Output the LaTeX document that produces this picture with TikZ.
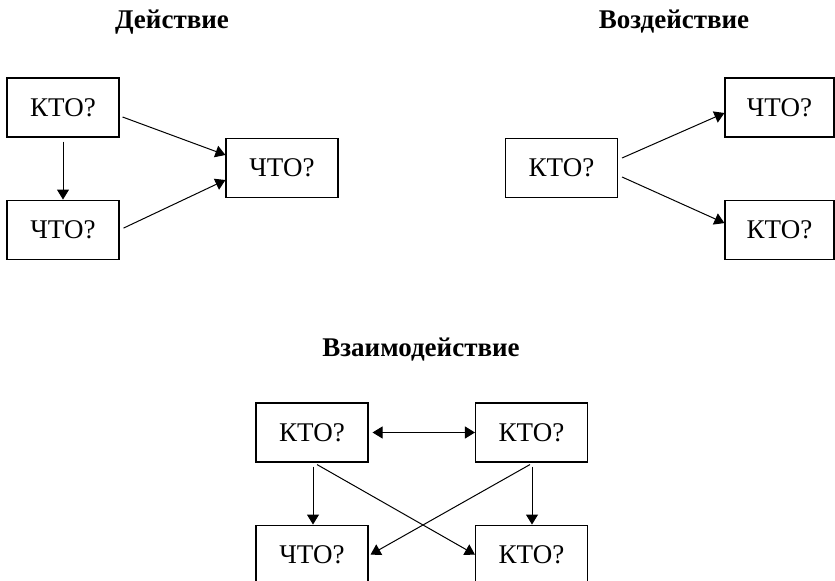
\documentclass[tikz,border=0pt]{standalone}
\usepackage{fontspec}
\setmainfont{Liberation Serif}
\usetikzlibrary{arrows.meta,positioning,calc}

\begin{document}
\begin{tikzpicture}[x=0.5pt,y=-0.5pt,
  box/.style={draw,line width=0.55pt,minimum width=56pt,minimum height=29.5pt,inner sep=0pt,font=\fontsize{13.5}{16}\selectfont},
  ttl/.style={font=\fontsize{13.5}{16}\selectfont\bfseries},
  ar/.style={-{Triangle[length=5pt,width=6pt]},line width=0.5pt},
  dar/.style={{Triangle[length=5pt,width=6pt]}-{Triangle[length=5pt,width=6pt]},line width=0.5pt}]
\useasboundingbox (0,0) rectangle (835,581);
\clip (0,0) rectangle (835,581);

% action
\node[ttl] (t1) at (172,22) {Действие};
\node[box] (d1) at (63,107.5) {КТО?};
\node[box,below=31pt of d1] (d2) {ЧТО?};
\node[box] (d3) at (282,168) {ЧТО?};

\draw[ar] ($(d1.east)+(3,9.5)$) -- ($(d3.west)+(0,-13)$);
\draw[ar] ($(d1.south)+(0,4)$) -- (d2.north);
\draw[ar] ($(d2.east)+(4,-1.5)$) -- ($(d3.west)+(0,12)$);

% influence
\node[ttl] (t2) at (674,22) {Воздействие};
\node[box] (v1) at (561.5,168) {КТО?};
\node[box,minimum width=54.5pt] (v2) at (779.5,107.5) {ЧТО?};
\node[box,minimum width=54.5pt,below=31pt of v2] (v3) {КТО?};

\draw[ar] ($(v1.east)+(4,-10)$) -- ($(v2.west)+(0,5.5)$);
\draw[ar] ($(v1.east)+(4,9)$) -- ($(v3.west)+(0,-6.5)$);

% interaction
\node[ttl] (t3) at (421,350) {Взаимодействие};
\node[box] (w1) at (312,432.5) {КТО?};
\node[box] (w2) at (531.5,432.5) {КТО?};
\node[box,below=31pt of w1] (w3) {ЧТО?};
\node[box,below=31pt of w2] (w4) {КТО?};

\draw[dar] ($(w1.east)+(4,0)$) -- (w2.west);
\draw[ar] ($(w1.south)+(1,4)$) -- ($(w3.north)+(1,0)$);
\draw[ar] ($(w2.south)+(0.5,4)$) -- ($(w4.north)+(0.5,0)$);
\draw[ar] ($(w1.south)+(5,2)$) -- (w4.west);
\draw[ar] ($(w2.south)+(-1.5,2)$) -- ($(w3.east)+(2,0)$);
\end{tikzpicture}
\end{document}
